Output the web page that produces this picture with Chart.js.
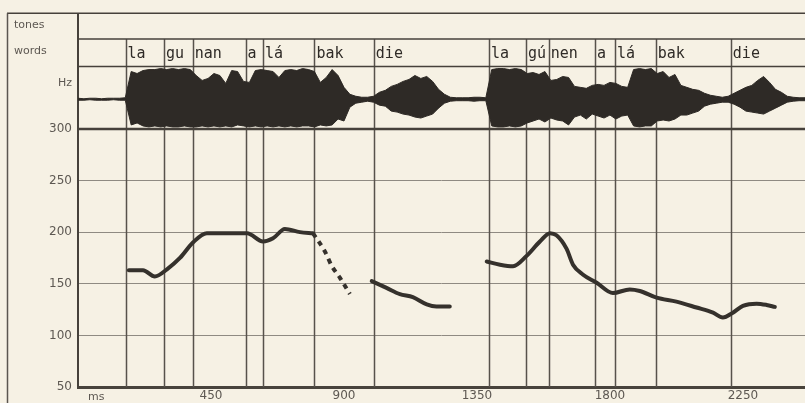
<!DOCTYPE html>
<html>
<head>
<meta charset="utf-8">
<script src="https://cdn.jsdelivr.net/npm/chart.js@4.4.1/dist/chart.umd.min.js"></script>
<style>
  html, body { margin: 0; padding: 0; background: #f6f1e4; }
</style>
</head>
<body>
<canvas id="pitchChart" width="805" height="403"></canvas>
<script>
// ejes
const hzTicks = [50, 100, 150, 200, 250, 300];
const msTicks = [450, 900, 1350, 1800, 2250];

// palabras y sus inicios (ms)
const words = ['la', 'gu', 'nan', 'a', 'lá', 'bak', 'die', 'la', 'gú', 'nen', 'a', 'lá', 'bak', 'die'];
const wordStarts = [161, 291, 388, 567, 626, 800, 1001, 1391, 1516, 1593, 1749, 1817, 1955, 2209];

// curva de F0 (Hz)
const pitch1Ms = [172, 220, 260, 301, 345, 389, 436, 572, 626, 660, 700, 751, 795];
const pitch1Hz = [163, 163, 157, 164, 175, 190, 199, 199, 191, 194, 203, 200, 199];
const pitch1DashMs = [795, 836, 859, 886, 920];
const pitch1DashHz = [199, 181, 167, 156, 140];
const pitch2Ms = [994, 1044, 1089, 1133, 1180, 1213, 1258];
const pitch2Hz = [152.5, 146, 140, 137, 130, 128, 128];
const pitch3Ms = [1383, 1428, 1472, 1518, 1563, 1597, 1619, 1653, 1675, 1708, 1755, 1810, 1867, 1901, 1958, 2025, 2093, 2149, 2182, 2216, 2250, 2296, 2330, 2358];
const pitch3Hz = [171.6, 168.5, 167, 177, 191, 199, 197, 184, 168.5, 159, 151, 141, 144.5, 143, 136.5, 132.7, 127, 122, 117.3, 122, 128.5, 130.7, 129.5, 127.6];

// envolvente de la onda
const waveMs = [0, 20, 40, 60, 80, 100, 120, 140, 160, 180, 200, 220, 240, 260, 280, 300, 320, 340, 360, 380,
  400, 420, 440, 460, 480, 500, 520, 540, 560, 580, 600, 620, 640, 660, 680, 700, 720, 740, 760, 780,
  800, 820, 840, 860, 880, 900, 920, 940, 960, 980, 1000, 1020, 1040, 1060, 1080, 1100, 1120, 1140, 1160, 1180,
  1200, 1220, 1240, 1260, 1280, 1300, 1320, 1340, 1360, 1380, 1400, 1420, 1440, 1460, 1480, 1500, 1520, 1540, 1560, 1580,
  1600, 1620, 1640, 1660, 1680, 1700, 1720, 1740, 1760, 1780, 1800, 1820, 1840, 1860, 1880, 1900, 1920, 1940, 1960, 1980,
  2000, 2020, 2040, 2060, 2080, 2100, 2120, 2140, 2160, 2180, 2200, 2220, 2240, 2260, 2280, 2300, 2320, 2340, 2360, 2380,
  2400, 2420, 2440, 2460];
const waveTop = [1, 0.5, 1, 1, 0.5, 1, 1, 1, 1.5, 28, 26, 29, 30, 30, 31, 30, 31, 30, 31, 30,
  24, 19, 21, 26, 24, 16, 29, 28, 18, 17, 29, 30, 29, 28, 22, 29, 30, 29, 31, 30,
  28, 17, 22, 30, 24, 12, 5, 3, 2, 2, 3, 7, 9, 13, 15, 18, 20, 24, 21, 23,
  18, 10, 5, 2, 1.5, 1.5, 1.5, 2, 2, 1.5, 30, 31, 31, 30, 31, 30, 26, 27, 25, 28,
  19, 20, 23, 22, 13, 12, 11, 14, 15, 14, 17, 16, 13, 12, 30, 31, 30, 31, 26, 28,
  22, 25, 14, 12, 10, 9, 6, 4, 3, 2, 3, 6, 9, 12, 14, 19, 23, 17, 10, 7,
  3, 2, 1.5, 1.5];
const waveBottom = [-1, -1, -0.5, -1, -1, -1, -0.5, -1, -1, -26, -24, -27, -28, -27, -28, -27, -28, -28, -27, -28,
  -28, -27, -28, -27, -28, -27, -28, -26, -27, -28, -27, -28, -27, -28, -27, -28, -27, -28, -27, -27,
  -28, -26, -27, -26, -20, -22, -8, -4, -3, -2, -3, -6, -7, -12, -13, -15, -16, -18, -19, -17,
  -15, -9, -4, -2, -1.5, -1.5, -1.5, -2, -1.5, -1.5, -27, -28, -28, -27, -28, -27, -24, -22, -20, -23,
  -19, -21, -22, -26, -18, -16, -20, -15, -17, -19, -16, -20, -17, -16, -27, -28, -27, -27, -22, -21,
  -22, -20, -16, -16, -14, -12, -7, -5, -4, -3, -3, -5, -8, -12, -13, -14, -15, -12, -9, -6,
  -3, -2, -1.5, -1.5];

const ink = '#35312c';
const labelColor = '#5d5852';

function pts(xs, ys) {
  return xs.map((x, i) => ({ x: x, y: ys[i] }));
}

const pitchStyle = {
  yAxisID: 'y',
  borderColor: ink,
  borderWidth: 4,
  pointRadius: 0,
  cubicInterpolationMode: 'monotone',
  borderCapStyle: 'round',
  borderJoinStyle: 'round',
  fill: false
};

// marco, filas y etiquetas
const framePlugin = {
  id: 'frame',
  beforeDraw(chart) {
    const c = chart.ctx;
    c.save();
    c.fillStyle = '#f6f1e4';
    c.fillRect(0, 0, chart.width, chart.height);
    c.restore();
  },
  beforeDatasetsDraw(chart) {
    const c = chart.ctx;
    const area = chart.chartArea;
    const sx = chart.scales.x;
    const rowWords = chart.scales.yWords;
    const rowWave = chart.scales.yWave;
    const rowHz = chart.scales.y;
    c.save();
    // limites de palabras
    c.strokeStyle = '#57524b';
    c.lineWidth = 1.5;
    wordStarts.forEach(ms => {
      const px = Math.round(sx.getPixelForValue(ms)) + 0.5;
      c.beginPath();
      c.moveTo(px, rowWords.top);
      c.lineTo(px, area.bottom);
      c.stroke();
    });
    // lineas horizontales de filas
    c.strokeStyle = '#46413b';
    c.lineWidth = 1.5;
    [area.top, rowWords.top, rowWave.top].forEach(yy => {
      c.beginPath();
      c.moveTo(yy === area.top ? 7 : area.left, yy);
      c.lineTo(area.right, yy);
      c.stroke();
    });
    c.lineWidth = 2.5;
    c.beginPath();
    c.moveTo(area.left, rowHz.top);
    c.lineTo(area.right, rowHz.top);
    c.stroke();
    // columna izquierda
    c.lineWidth = 2;
    c.beginPath();
    c.moveTo(area.left, area.top);
    c.lineTo(area.left, area.bottom);
    c.stroke();
    c.lineWidth = 1.5;
    c.strokeStyle = '#5b5650';
    c.beginPath();
    c.moveTo(7.5, area.top);
    c.lineTo(7.5, chart.height);
    c.stroke();
    c.restore();
  },
  afterDatasetsDraw(chart) {
    const c = chart.ctx;
    const sx = chart.scales.x;
    const rowWords = chart.scales.yWords;
    const rowTones = chart.scales.yTones;
    const rowWave = chart.scales.yWave;
    const area = chart.chartArea;
    c.save();
    c.fillStyle = '#2f2b27';
    c.font = '15px "DejaVu Sans Mono"';
    c.textBaseline = 'middle';
    c.textAlign = 'left';
    const wy = (rowWords.top + rowWords.bottom) / 2 + 1;
    words.forEach((w, i) => {
      c.fillText(w, sx.getPixelForValue(wordStarts[i]) + 2, wy);
    });
    c.fillStyle = labelColor;
    c.font = '11px "DejaVu Sans"';
    c.fillText('tones', 14, (rowTones.top + rowTones.bottom) / 2 - 1);
    c.fillText('words', 14, (rowWords.top + rowWords.bottom) / 2 - 2);
    c.textAlign = 'right';
    c.fillText('Hz', 72, rowWave.top + 17);
    c.textAlign = 'left';
    c.font = '11px "DejaVu Sans"';
    c.fillText('ms', 88, area.bottom + 10);
    c.restore();
  }
};

const hiddenRow = (weight) => ({
  type: 'linear',
  position: 'left',
  stack: 'rows',
  stackWeight: weight,
  min: 0,
  max: 1,
  afterFit: s => { s.width = 78; },
  ticks: { display: false },
  grid: { display: false, drawTicks: false },
  border: { display: false }
});

const waveSet = {
  yAxisID: 'yWave',
  borderColor: '#2e2a26',
  backgroundColor: '#2e2a26',
  borderWidth: 1,
  pointRadius: 0,
  tension: 0
};

new Chart(document.getElementById('pitchChart'), {
  type: 'line',
  data: {
    datasets: [
      Object.assign({ data: pts(waveMs, waveTop), fill: '+1' }, waveSet),
      Object.assign({ data: pts(waveMs, waveBottom), fill: false }, waveSet),
      Object.assign({ data: pts(pitch1Ms, pitch1Hz) }, pitchStyle),
      Object.assign({ data: pts(pitch1DashMs, pitch1DashHz) }, pitchStyle, { borderDash: [5, 5], borderCapStyle: 'butt' }),
      Object.assign({ data: pts(pitch2Ms, pitch2Hz) }, pitchStyle),
      Object.assign({ data: pts(pitch3Ms, pitch3Hz) }, pitchStyle)
    ]
  },
  options: {
    responsive: false,
    animation: false,
    devicePixelRatio: 1,
    layout: { padding: { top: 9, right: 0, bottom: 0, left: 0 } },
    plugins: { legend: { display: false }, tooltip: { enabled: false } },
    scales: {
      x: {
        type: 'linear',
        min: 0,
        max: 2460,
        afterBuildTicks: s => { s.ticks = msTicks.map(v => ({ value: v })); },
        afterFit: s => { s.height = 16; },
        grid: { display: false, drawTicks: false },
        border: { display: true, color: '#48433c', width: 3 },
        ticks: {
          color: labelColor,
          font: { family: 'DejaVu Sans', size: 12 },
          padding: 2,
          maxRotation: 0,
          callback: v => String(v)
        }
      },
      y: {
        type: 'linear',
        position: 'left',
        stack: 'rows',
        stackWeight: 261,
        min: 50,
        max: 300,
        afterBuildTicks: s => { s.ticks = hzTicks.map(v => ({ value: v })); },
        afterFit: s => { s.width = 78; },
        grid: {
          drawTicks: false,
          lineWidth: 1,
          color: ctx => (ctx.tick && (ctx.tick.value === 50 || ctx.tick.value === 300)) ? 'rgba(0,0,0,0)' : '#8f8a82'
        },
        border: { display: false },
        ticks: { color: labelColor, font: { family: 'DejaVu Sans', size: 12 }, padding: 6, callback: v => String(v) }
      },
      yWave: Object.assign(hiddenRow(63), { min: -30, max: 33 }),
      yWords: hiddenRow(28),
      yTones: hiddenRow(26)
    }
  },
  plugins: [framePlugin]
});
</script>
</body>
</html>
